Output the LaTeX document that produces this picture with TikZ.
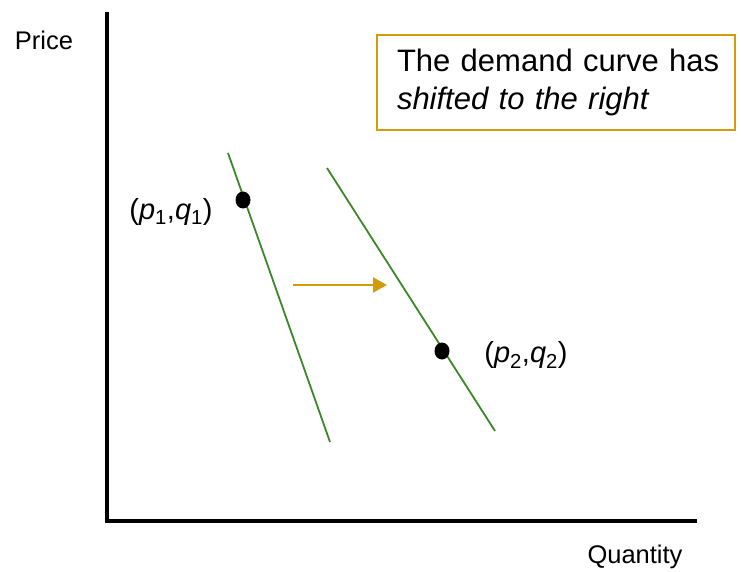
\documentclass[tikz,border=0pt]{standalone}
\usepackage{fontspec}
\setmainfont{Liberation Sans}
\usepackage{xcolor}
\usetikzlibrary{calc,arrows.meta,shapes.geometric}
\definecolor{boxgold}{RGB}{210,155,10}
\definecolor{curvegreen}{RGB}{60,135,40}
\newcommand{\pq}[1]{(\textit{p}\textsubscript{#1},\textit{q}\textsubscript{#1})}

\begin{document}
\begin{tikzpicture}[
  x=1pt, y=-1pt,
  axis/.style={line width=3.2pt, black},
  curve/.style={line width=1.8pt, curvegreen},
  lbl/.style={inner sep=0pt, font=\fontsize{25.5}{30}\selectfont},
  ptlbl/.style={inner sep=0pt, font=\fontsize{29}{34}\selectfont},
  pt/.style={draw=none, fill=black, ellipse, minimum width=15pt, minimum height=17pt, inner sep=0pt},
  note/.style={draw=boxgold, line width=2.4pt, align=left, inner sep=0pt,
    text width=338pt, minimum width=358pt, minimum height=95pt,
    font=\fontsize{31}{38}\selectfont},
  shiftarr/.style={-{Triangle[length=14pt,width=15pt]}, line width=2.3pt, boxgold}
]
\useasboundingbox (0,0) rectangle (741,572);

% axes
\coordinate (top) at (107,12);
\coordinate (origin) at (107,521);
\coordinate (right) at (697,521);
\draw[axis] (top) -- (origin) -- (right);
\node[lbl] (price) at (44,40) {Price};
\node[lbl] (qty) at (635,557) {Quantity};

% note
\node[note] (msg) at (556,82.5) {\hspace*{10pt}The demand curve has\\\hspace*{10pt}\textit{shifted to the right}};

% demand curves
\coordinate (d1a) at (228,153);
\coordinate (d1b) at (330,442);
\coordinate (d2a) at (327,168);
\coordinate (d2b) at (495,431);
\draw[curve] (d1a) -- (d1b);
\draw[curve] (d2a) -- (d2b);

% points
\node[pt] (e1) at (243,200) {};
\node[pt] (e2) at (442,351) {};
\node[ptlbl] (e1lbl) at (171,212) {\pq{1}};
\node[ptlbl] (e2lbl) at (526,355) {\pq{2}};

% shift arrow
\coordinate (sa) at (293,285);
\coordinate (sb) at (387,285);
\draw[shiftarr] (sa) -- (sb);

\end{tikzpicture}
\end{document}
